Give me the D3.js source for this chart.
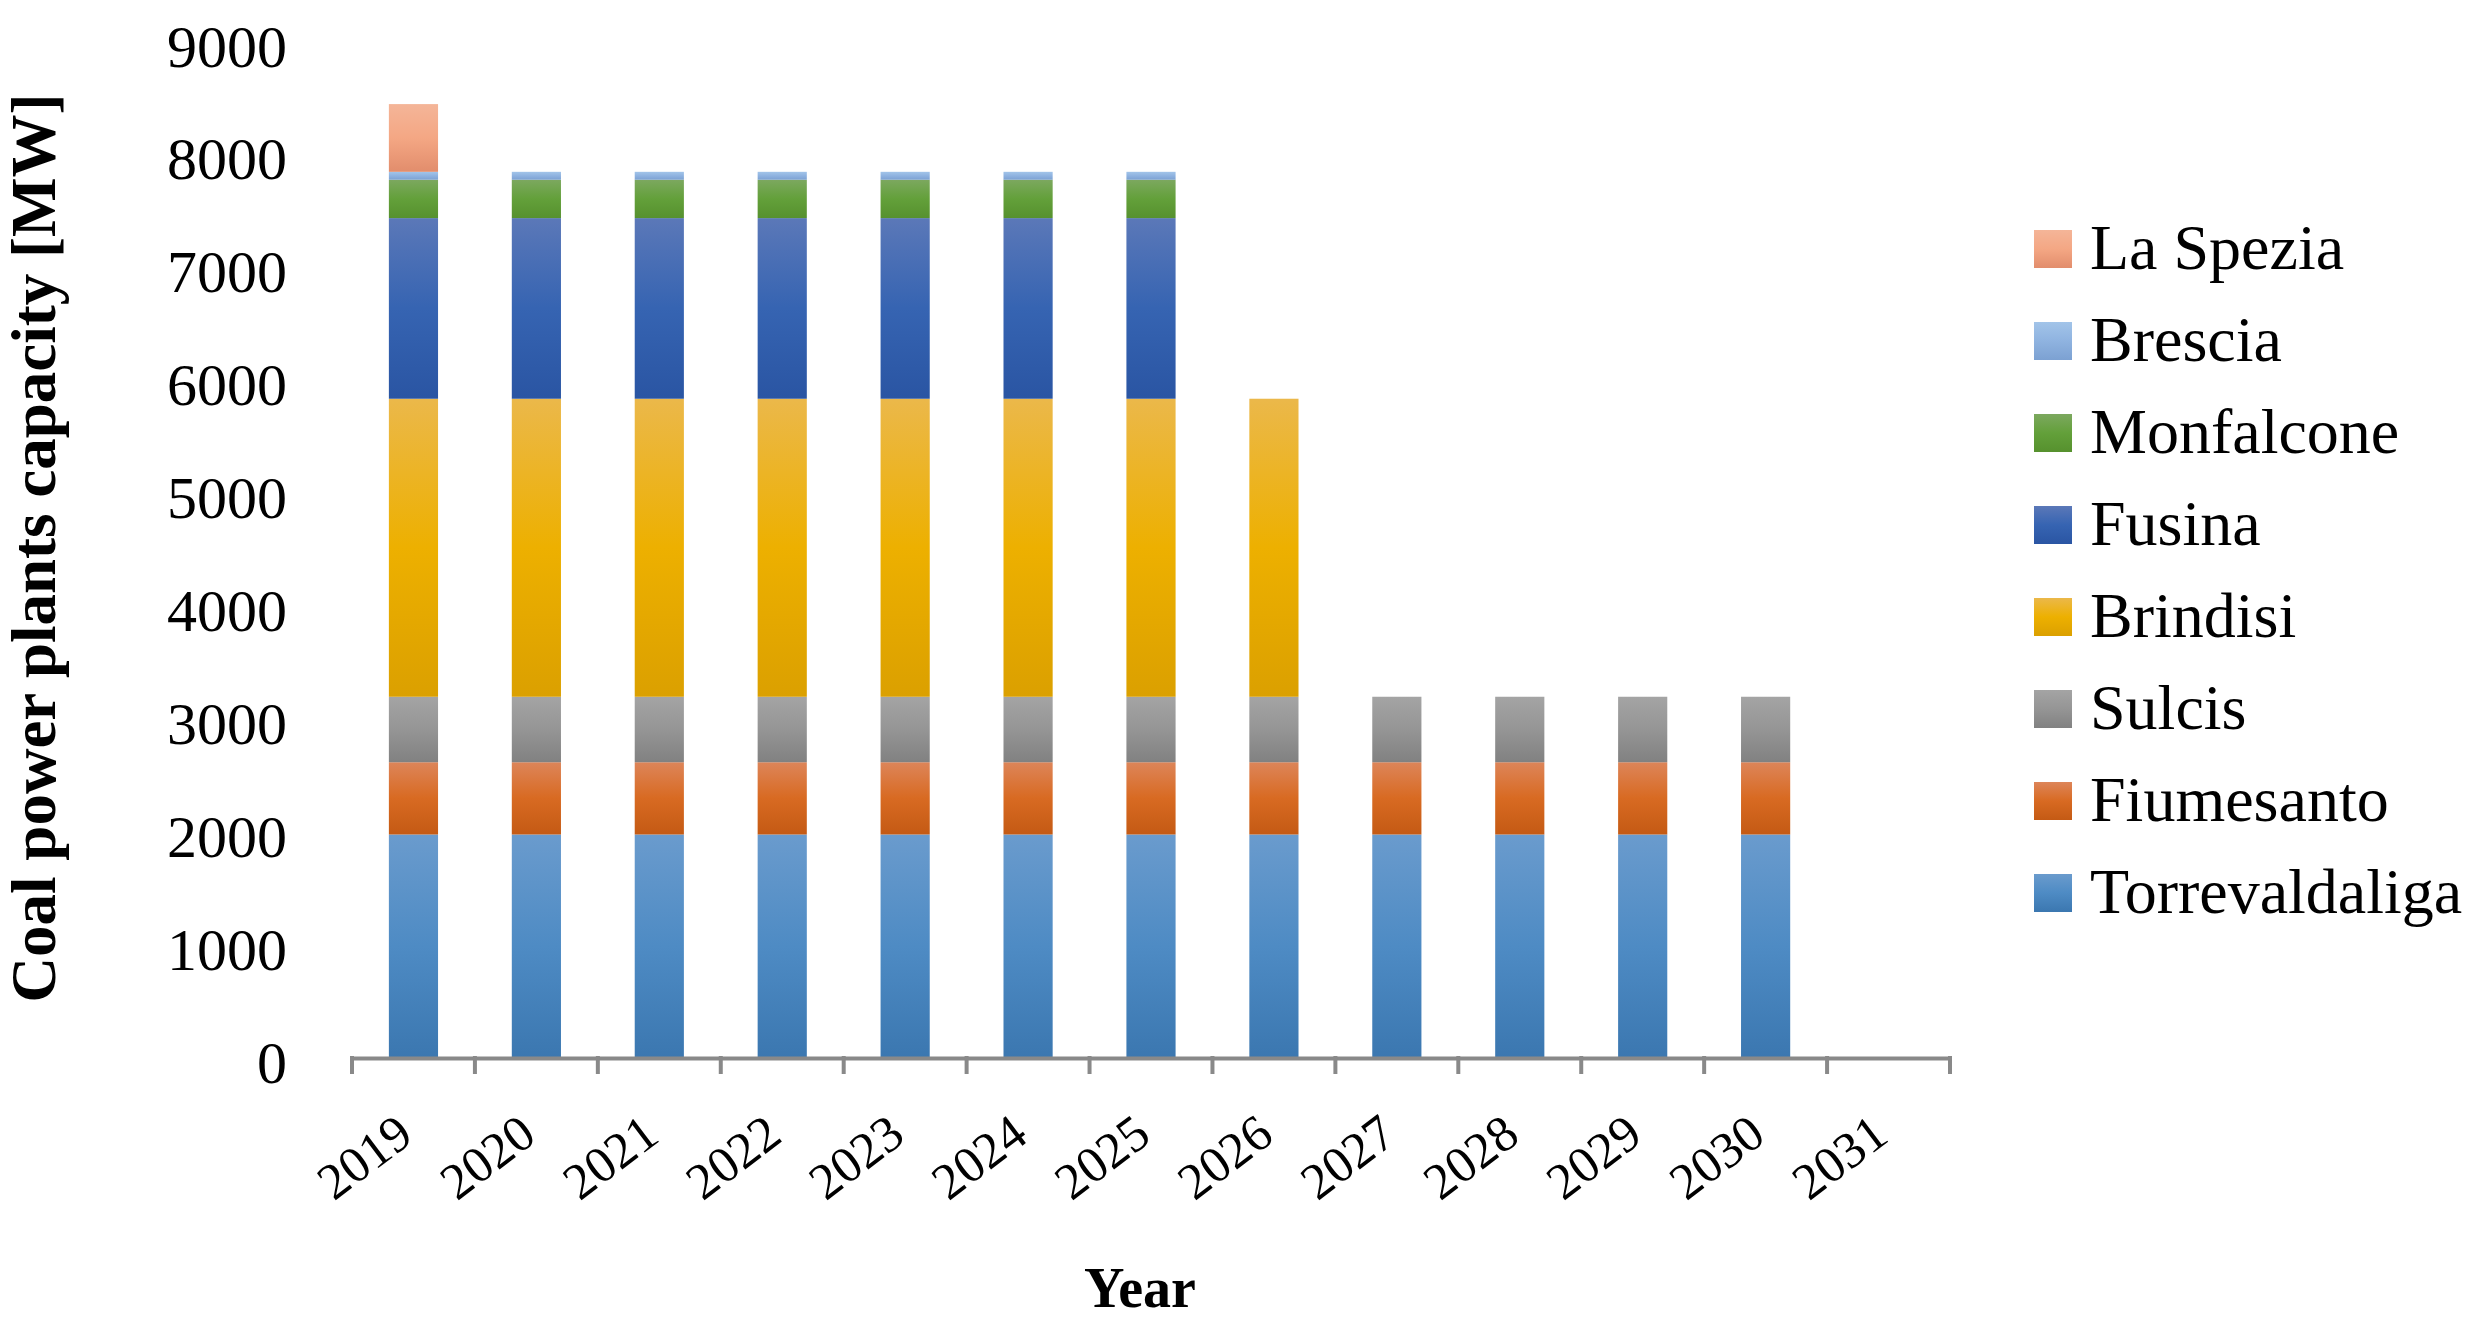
<!DOCTYPE html>
<html lang="en">
<head>
    <meta charset="UTF-8">
    <title>Coal power plants capacity</title>
    <script src="https://cdn.jsdelivr.net/npm/d3@7"></script>
    <style>
        body { margin: 0; background: #fff; }
        svg { display: block; font-family: 'Liberation Serif', 'Times New Roman', serif; }
    </style>
</head>
<body>
    <svg id="chart" width="2480" height="1331"></svg>

    <script>
        // categories
        const years = ['2019', '2020', '2021', '2022', '2023', '2024', '2025', '2026', '2027', '2028', '2029', '2030', '2031'];
        // stacking order, bottom first
        const plants = ['Torrevaldaliga', 'Fiumesanto', 'Sulcis', 'Brindisi', 'Fusina', 'Monfalcone', 'Brescia', 'La Spezia'];

        // capacity per year [MW]
        const torrevaldaliga = [1980, 1980, 1980, 1980, 1980, 1980, 1980, 1980, 1980, 1980, 1980, 1980, 0];
        const fiumesanto     = [640, 640, 640, 640, 640, 640, 640, 640, 640, 640, 640, 640, 0];
        const sulcis         = [580, 580, 580, 580, 580, 580, 580, 580, 580, 580, 580, 580, 0];
        const brindisi       = [2640, 2640, 2640, 2640, 2640, 2640, 2640, 2640, 0, 0, 0, 0, 0];
        const fusina         = [1600, 1600, 1600, 1600, 1600, 1600, 1600, 0, 0, 0, 0, 0, 0];
        const monfalcone     = [340, 340, 340, 340, 340, 340, 340, 0, 0, 0, 0, 0, 0];
        const brescia        = [70, 70, 70, 70, 70, 70, 70, 0, 0, 0, 0, 0, 0];
        const laSpezia       = [600, 0, 0, 0, 0, 0, 0, 0, 0, 0, 0, 0, 0];

        const yTicks = [0, 1000, 2000, 3000, 4000, 5000, 6000, 7000, 8000, 9000];

        const seriesValues = [torrevaldaliga, fiumesanto, sulcis, brindisi, fusina, monfalcone, brescia, laSpezia];

        // excel style gradient: light top, base middle, dark bottom
        const gradients = {
            'Torrevaldaliga': ['#6a9bcd', '#4e8bc4', '#3b77b0'],
            'Fiumesanto': ['#dd8559', '#d86a22', '#c45a14'],
            'Sulcis': ['#a4a4a4', '#959595', '#818181'],
            'Brindisi': ['#ebb84a', '#edb000', '#dba000'],
            'Fusina': ['#5b78b8', '#3664b2', '#2a55a3'],
            'Monfalcone': ['#7ca85f', '#63a03a', '#56912e'],
            'Brescia': ['#a2c4e9', '#8fb3e0', '#7ca1d2'],
            'La Spezia': ['#f4b598', '#f4a784', '#e28d6c']
        };

        const svg = d3.select('#chart');

        const rows = years.map((yr, i) => {
            const row = { year: yr };
            plants.forEach((p, j) => { row[p] = seriesValues[j][i]; });
            return row;
        });

        const x = d3.scaleBand()
            .domain(years)
            .range([352, 1950])
            .paddingInner(0.6)
            .paddingOuter(0.3);

        const y = d3.scaleLinear()
            .domain([0, 9000])
            .range([1058, 42]);

        // gradients
        const defs = svg.append('defs');
        plants.forEach((p, i) => {
            const g = defs.append('linearGradient')
                .attr('id', 'grad' + i)
                .attr('x1', 0).attr('y1', 0).attr('x2', 0).attr('y2', 1);
            gradients[p].forEach((c, k) => {
                g.append('stop').attr('offset', (k * 50) + '%').attr('stop-color', c);
            });
        });

        const stacked = d3.stack().keys(plants)(rows);

        svg.append('g')
            .selectAll('g')
            .data(stacked)
            .join('g')
            .attr('fill', (d, i) => 'url(#grad' + i + ')')
            .selectAll('rect')
            .data(d => d.filter(s => s[1] > s[0]))
            .join('rect')
            .attr('x', d => x(d.data.year))
            .attr('width', x.bandwidth())
            .attr('y', d => y(d[1]))
            .attr('height', d => y(d[0]) - y(d[1]));

        // y axis labels only (no line)
        const yAxis = svg.append('g')
            .attr('transform', 'translate(287,0)')
            .call(d3.axisLeft(y).tickValues(yTicks).tickSize(0).tickPadding(0).tickFormat(d3.format('d')));
        yAxis.select('.domain').remove();
        yAxis.selectAll('text')
            .attr('font-family', "'Liberation Serif', serif")
            .attr('font-size', 60)
            .attr('fill', '#000')
            .attr('dy', 24)
            .attr('x', 0);

        // x axis: line + ticks at category boundaries
        const xAxis = svg.append('g')
            .attr('transform', 'translate(0,1058)')
            .call(d3.axisBottom(x).tickSize(0).tickSizeOuter(0).tickFormat(''));
        xAxis.select('.domain')
            .attr('stroke', '#898989')
            .attr('stroke-width', 4);
        xAxis.selectAll('.tick').remove();

        const bounds = years.map(yr => x(yr) - x.step() * x.paddingInner() / 2);
        bounds.push(x.range()[1]);
        xAxis.selectAll('line.bound')
            .data(bounds)
            .join('line')
            .attr('class', 'bound')
            .attr('x1', d => d).attr('x2', d => d)
            .attr('y1', -2).attr('y2', 16)
            .attr('stroke', '#898989')
            .attr('stroke-width', 4);

        svg.append('g')
            .selectAll('text')
            .data(years)
            .join('text')
            .attr('transform', d => `translate(${x(d) + x.bandwidth() / 2 + 2},1140) rotate(-37)`)
            .attr('text-anchor', 'end')
            .attr('font-size', 51)
            .attr('fill', '#000')
            .text(d => d);

        // axis titles
        svg.append('text')
            .attr('transform', 'translate(55,548) rotate(-90)')
            .attr('text-anchor', 'middle')
            .attr('font-size', 63)
            .attr('font-weight', 'bold')
            .text('Coal power plants capacity [MW]');

        svg.append('text')
            .attr('x', 1140)
            .attr('y', 1307)
            .attr('text-anchor', 'middle')
            .attr('font-size', 56)
            .attr('font-weight', 'bold')
            .text('Year');

        // legend, top entry = top of stack
        const legendItems = plants.slice().reverse();
        const legend = svg.append('g')
            .selectAll('g')
            .data(legendItems)
            .join('g')
            .attr('transform', (d, i) => `translate(2034,${249 + i * 92})`);
        legend.append('rect')
            .attr('x', 0).attr('y', -19)
            .attr('width', 38).attr('height', 38)
            .attr('fill', d => 'url(#grad' + plants.indexOf(d) + ')');
        legend.append('text')
            .attr('x', 56)
            .attr('y', 20)
            .attr('font-size', 64)
            .attr('fill', '#000')
            .text(d => d);
    </script>
</body>
</html>
